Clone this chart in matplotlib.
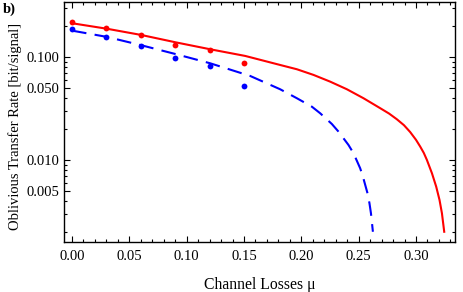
import matplotlib
matplotlib.use('Agg')
import matplotlib.pyplot as plt
from matplotlib.ticker import FixedLocator, FixedFormatter, LogLocator, NullFormatter, MultipleLocator

plt.rcParams['font.family'] = ['Liberation Serif', 'DejaVu Serif']

# curves
red_mu = [0, 0.0305, 0.0602, 0.0908, 0.1213, 0.151, 0.1815, 0.1961, 0.2106, 0.2251,
          0.2397, 0.2542, 0.2688, 0.2765, 0.2833, 0.2895, 0.2949, 0.3000, 0.3037, 0.3068,
          0.3095, 0.3139, 0.3176, 0.3205, 0.3226, 0.3246]
red_rate = [0.2143, 0.1894, 0.1649, 0.1394, 0.1191, 0.1030, 0.0841, 0.0764, 0.0673, 0.0579,
            0.0488, 0.0399, 0.0319, 0.0283, 0.0249, 0.0218, 0.0187, 0.0157, 0.01347, 0.0117,
            0.0100, 0.00742, 0.00550, 0.00408, 0.00303, 0.00200]

blue_mu = [0, 0.0305, 0.0593, 0.0899, 0.1204, 0.1553, 0.1815, 0.1961, 0.2092, 0.2164,
           0.2266, 0.2324, 0.2411, 0.2455, 0.2513, 0.2537, 0.2577, 0.2594, 0.2607, 0.2624]
blue_rate = [0.1816, 0.1577, 0.1318, 0.1077, 0.0874, 0.0658, 0.0488, 0.0399, 0.0330, 0.0285,
             0.0224, 0.01887, 0.0140, 0.01162, 0.00830, 0.00688, 0.00474, 0.00379, 0.00303, 0.00200]

# measured points
pts_mu = [0, 0.03, 0.06, 0.09, 0.12, 0.15]
red_pts = [0.222, 0.193, 0.164, 0.1327, 0.1178, 0.0880]
blue_pts = [0.187, 0.1587, 0.128, 0.0978, 0.0828, 0.0529]

ytick_vals = [0.005, 0.010, 0.050, 0.100]
ytick_labels = ['0.005', '0.010', '0.050', '0.100']

fig = plt.figure(figsize=(4.63, 2.92), dpi=100)
ax = fig.add_axes([64/463, 50/292, 391/463, 240/292])

ax.plot(red_mu, red_rate, color='red', lw=1.5)
ax.plot(blue_mu, blue_rate, color='blue', lw=1.5, linestyle=(0, (7, 4)))
ax.plot(pts_mu, red_pts, 'o', color='red', ms=4.2, mec='none')
ax.plot(pts_mu, blue_pts, 'o', color='blue', ms=4.2, mec='none')

ax.set_yscale('log')
ax.set_xlim(-0.007, 0.334)
ax.set_ylim(0.00159, 0.345)

ax.yaxis.set_major_locator(FixedLocator(ytick_vals))
ax.yaxis.set_major_formatter(FixedFormatter(ytick_labels))
ax.yaxis.set_minor_locator(LogLocator(base=10, subs=range(1, 10), numticks=20))
ax.yaxis.set_minor_formatter(NullFormatter())
ax.xaxis.set_major_locator(MultipleLocator(0.05))
ax.xaxis.set_minor_locator(MultipleLocator(0.01))
ax.xaxis.set_major_formatter(plt.FuncFormatter(lambda v, p: f'{v:.2f}'))

ax.tick_params(which='both', direction='in', top=True, right=True, labelsize=10.5, width=0.8)
ax.tick_params(which='major', length=4)
ax.tick_params(axis='x', which='major', pad=6)
ax.tick_params(which='minor', length=2)
for s in ax.spines.values():
    s.set_linewidth(1.0)

ax.set_xlabel('Channel Losses μ', fontsize=11.3, labelpad=10)
ax.set_ylabel('Oblivious Transfer Rate [bit/signal]', fontsize=10.5)
ax.yaxis.set_label_coords(-0.108, 0.48)
fig.text(0.005, 0.99, 'b)', fontsize=10.5, fontweight='bold', va='top', ha='left')

fig.savefig('out.png', dpi=100)
